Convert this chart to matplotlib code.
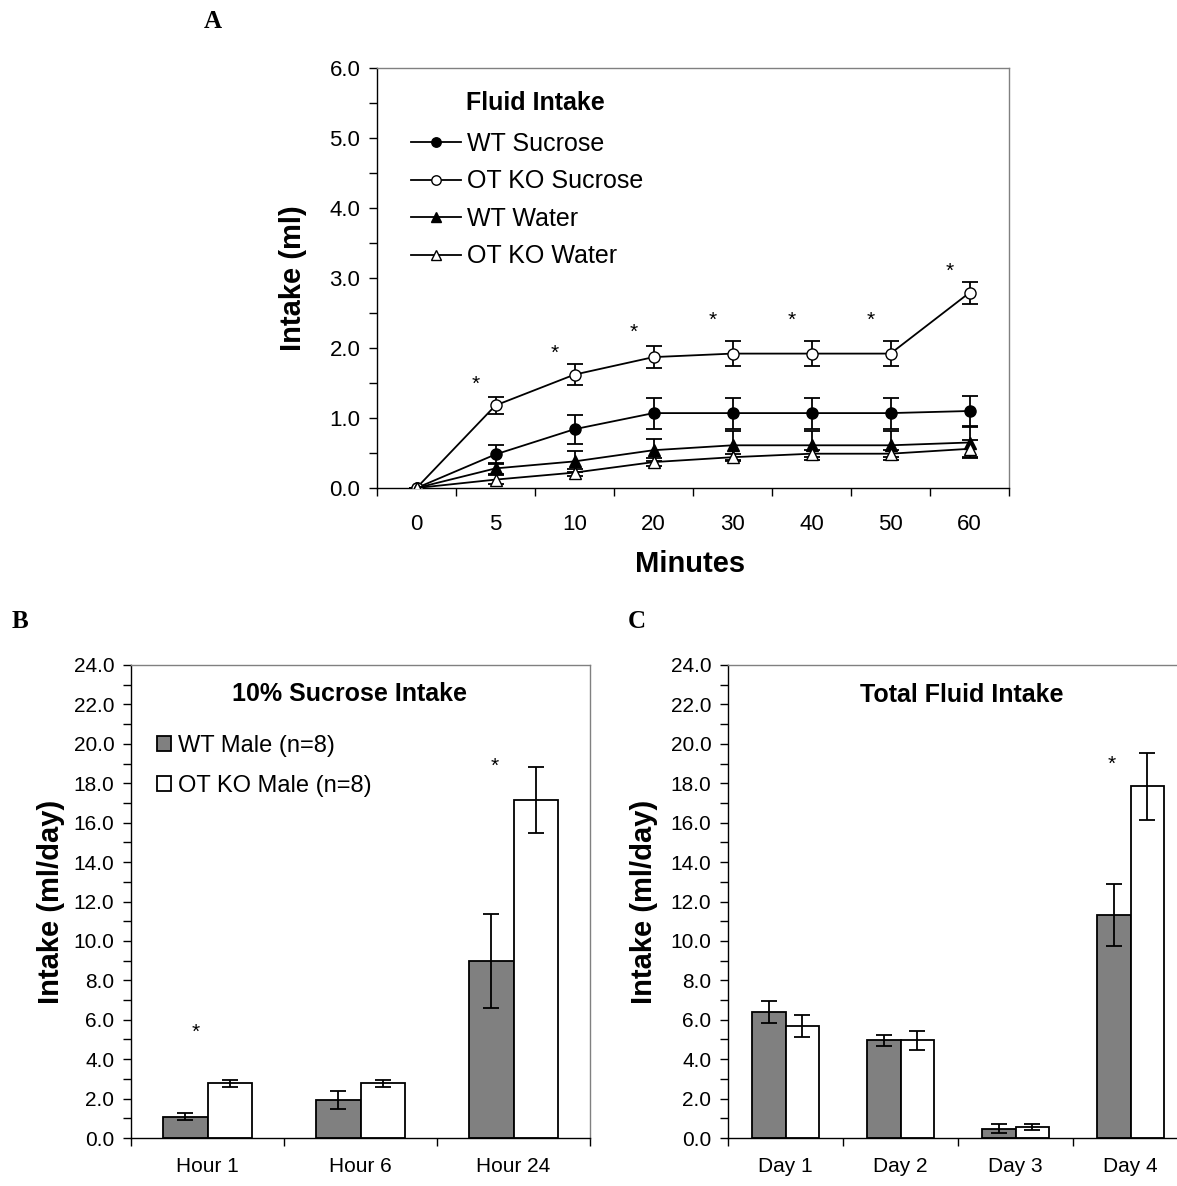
import matplotlib
matplotlib.use("Agg")
import matplotlib.pyplot as plt
import numpy as np
from matplotlib.ticker import MultipleLocator, FormatStrFormatter, FixedLocator
from matplotlib.patches import Patch

plt.rcParams['font.family'] = ['Liberation Sans', 'DejaVu Sans']

# ---- panel A data (ml) ----
minutes = ["0", "5", "10", "20", "30", "40", "50", "60"]
wt_suc = [0, 0.48, 0.84, 1.07, 1.07, 1.07, 1.07, 1.10]
wt_suc_err = [0, 0.13, 0.21, 0.22, 0.22, 0.22, 0.22, 0.21]
ko_suc = [0, 1.18, 1.62, 1.87, 1.92, 1.92, 1.92, 2.79]
ko_suc_err = [0, 0.12, 0.15, 0.16, 0.18, 0.18, 0.18, 0.16]
wt_wat = [0, 0.28, 0.38, 0.54, 0.61, 0.61, 0.61, 0.65]
wt_wat_err = [0, 0.08, 0.15, 0.16, 0.21, 0.21, 0.21, 0.22]
ko_wat = [0, 0.12, 0.22, 0.37, 0.44, 0.49, 0.49, 0.56]
ko_wat_err = [0, 0.06, 0.05, 0.06, 0.05, 0.05, 0.05, 0.12]
a_star_idx = [1, 2, 3, 4, 5, 6, 7]
a_star_y = [1.48, 1.93, 2.23, 2.40, 2.40, 2.40, 3.10]

# ---- panel B data (ml/day) ----
hours = ["Hour 1", "Hour 6", "Hour 24"]
b_wt = [1.09, 1.93, 8.99]
b_wt_err = [0.19, 0.47, 2.40]
b_ko = [2.77, 2.77, 17.15]
b_ko_err = [0.18, 0.18, 1.68]
b_star_x = [-0.08, 1.88]
b_star_y = [5.35, 18.84]

# ---- panel C data (ml/day) ----
days = ["Day 1", "Day 2", "Day 3", "Day 4"]
c_wt = [6.37, 4.95, 0.47, 11.31]
c_wt_err = [0.56, 0.29, 0.24, 1.58]
c_ko = [5.69, 4.95, 0.56, 17.84]
c_ko_err = [0.57, 0.46, 0.17, 1.68]
c_star_x = [2.84]
c_star_y = [18.96]

W, H = 1177, 1186
fig = plt.figure(figsize=(W / 100, H / 100), dpi=100)


def frame(ax, ncat):
    for s in ['top', 'right']:
        ax.spines[s].set_color('#808080')
        ax.spines[s].set_linewidth(1)
    for s in ['left', 'bottom']:
        ax.spines[s].set_color('black')
        ax.spines[s].set_linewidth(1)
    ax.set_xlim(-0.5, ncat - 0.5)
    ax.xaxis.set_major_locator(FixedLocator(np.arange(ncat)))
    ax.xaxis.set_minor_locator(FixedLocator(np.arange(ncat + 1) - 0.5))
    ax.tick_params(axis='x', which='major', length=0)
    ax.tick_params(axis='x', which='minor', length=6, width=1, direction='out')
    ax.tick_params(axis='y', which='both', length=6, width=1, direction='out')
    ax.yaxis.set_major_formatter(FormatStrFormatter('%.1f'))


# ================= A =================
axA = fig.add_axes([377 / W, 1 - 488 / H, 632 / W, 420 / H])
frame(axA, len(minutes))
xa = np.arange(len(minutes))
series = [
    (wt_suc, wt_suc_err, 'o', 'black', 8, "WT Sucrose"),
    (ko_suc, ko_suc_err, 'o', 'white', 8, "OT KO Sucrose"),
    (wt_wat, wt_wat_err, '^', 'black', 8.5, "WT Water"),
    (ko_wat, ko_wat_err, '^', 'white', 8.5, "OT KO Water"),
]
for vals, errs, mk, fc, ms, lab in series:
    axA.errorbar(xa, vals, yerr=errs, fmt='none', ecolor='black', elinewidth=1.3,
                 capsize=5.5, capthick=1.3, zorder=2)
    axA.plot(xa, vals, '-', color='black', lw=1.3, marker=mk, ms=ms,
             mfc=fc, mec='black', mew=1, label=lab, zorder=3)
for i, y in zip(a_star_idx, a_star_y):
    axA.text(i - 0.25, y, "*", ha='center', va='center', fontsize=15)
axA.set_ylim(0, 6)
axA.yaxis.set_major_locator(MultipleLocator(1))
axA.yaxis.set_minor_locator(MultipleLocator(0.5))
axA.set_xticklabels(minutes)
axA.tick_params(axis='both', which='major', labelsize=16)
axA.tick_params(axis='x', which='major', pad=19)
axA.tick_params(axis='y', which='major', pad=6)
axA.set_ylabel("Intake (ml)", fontsize=21, fontweight='bold')
axA.yaxis.set_label_coords(-0.111, 0.5)
axA.set_xlabel("Minutes", fontsize=21, fontweight='bold')
axA.xaxis.set_label_coords(0.495, -0.148)
axA.text(0.25, 0.917, "Fluid Intake", transform=axA.transAxes, ha='center', va='center',
         fontsize=18, fontweight='bold')
axA.legend(loc='upper left', bbox_to_anchor=(0.054, 0.848), frameon=False, fontsize=18,
           handlelength=2.0, handletextpad=0.25, labelspacing=0.54, borderpad=0,
           borderaxespad=0, markerscale=0.85)

# ================= B & C =================
w = 0.29


def bars(ax, cats, wt, wt_e, ko, ko_e, sx, sy):
    x = np.arange(len(cats))
    frame(ax, len(cats))
    ax.bar(x - w / 2, wt, w, color='#808080', edgecolor='black', linewidth=1.3,
           label="WT Male (n=8)", zorder=2)
    ax.bar(x + w / 2, ko, w, color='white', edgecolor='black', linewidth=1.3,
           label="OT KO Male (n=8)", zorder=2)
    ax.errorbar(x - w / 2, wt, yerr=wt_e, fmt='none', ecolor='black', elinewidth=1.3,
                capsize=6, capthick=1.3, zorder=3)
    ax.errorbar(x + w / 2, ko, yerr=ko_e, fmt='none', ecolor='black', elinewidth=1.3,
                capsize=6, capthick=1.3, zorder=3)
    for xs, ys in zip(sx, sy):
        ax.text(xs, ys, "*", ha='center', va='center', fontsize=15)
    ax.set_ylim(0, 24)
    ax.yaxis.set_major_locator(MultipleLocator(2))
    ax.yaxis.set_minor_locator(MultipleLocator(1))
    ax.set_xticklabels(cats)
    ax.tick_params(axis='both', which='major', labelsize=15)
    ax.tick_params(axis='x', which='major', pad=14)
    ax.tick_params(axis='y', which='major', pad=6)
    ax.set_ylabel("Intake (ml/day)", fontsize=21, fontweight='bold')


axB = fig.add_axes([131 / W, 1 - 1138 / H, 459 / W, 473 / H])
bars(axB, hours, b_wt, b_wt_err, b_ko, b_ko_err, b_star_x, b_star_y)
axB.yaxis.set_label_coords(-0.143, 0.5)
axB.text(0.475, 0.939, "10% Sucrose Intake", transform=axB.transAxes, ha='center',
         va='center', fontsize=18, fontweight='bold')
hb = [Patch(facecolor='#808080', edgecolor='black', lw=1.3, label="WT Male (n=8)"),
      Patch(facecolor='white', edgecolor='black', lw=1.3, label="OT KO Male (n=8)")]
axB.legend(handles=hb, loc='upper left', bbox_to_anchor=(0.057, 0.852), frameon=False,
           fontsize=17, handlelength=0.6, handleheight=0.6, handletextpad=0.3,
           labelspacing=0.75, borderpad=0, borderaxespad=0)

axC = fig.add_axes([728 / W, 1 - 1138 / H, 460 / W, 473 / H])
bars(axC, days, c_wt, c_wt_err, c_ko, c_ko_err, c_star_x, c_star_y)
axC.yaxis.set_label_coords(-0.152, 0.5)
axC.text(0.509, 0.937, "Total Fluid Intake", transform=axC.transAxes, ha='center',
         va='center', fontsize=18, fontweight='bold')

# panel letters
for lab, px, py in [("A", 213, 22), ("B", 20, 622), ("C", 637, 622)]:
    fig.text(px / W, 1 - py / H, lab, ha='center', va='center', fontsize=18,
             fontweight='bold', family=['Liberation Serif', 'DejaVu Serif'])

fig.savefig("out.png", dpi=100)
